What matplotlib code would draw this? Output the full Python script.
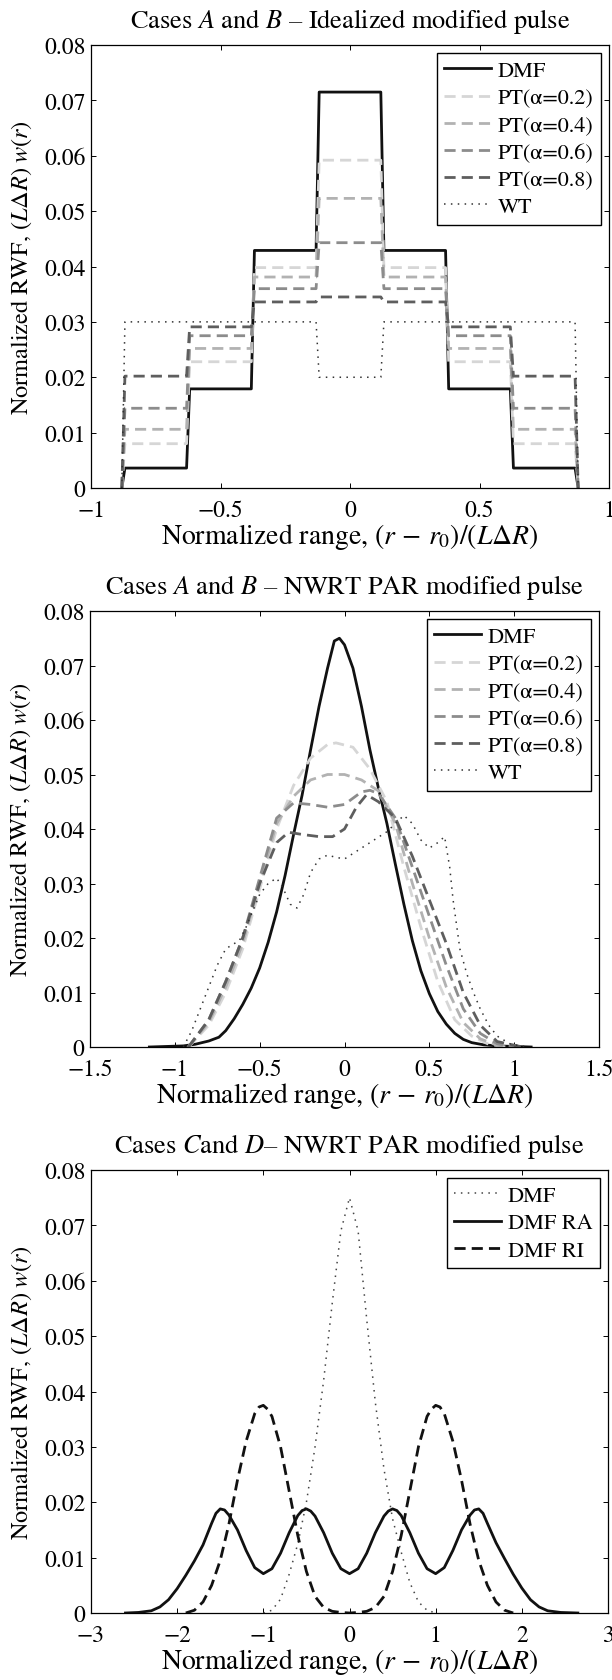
import matplotlib.pyplot as plt
import numpy as np
from matplotlib.ticker import FuncFormatter

plt.rcParams['font.family'] = 'STIXGeneral'
plt.rcParams['mathtext.fontset'] = 'stix'

# ---- panel 1: idealized modified pulse (piecewise constant) ----
edges = [-0.875, -0.625, -0.375, -0.125, 0.125, 0.375, 0.625, 0.875]
dmf_steps = [0.0036, 0.0179, 0.0429, 0.0715, 0.0429, 0.0179, 0.0036]
pt02_steps = [0.0080, 0.0228, 0.0398, 0.0592, 0.0398, 0.0228, 0.0080]
pt04_steps = [0.0106, 0.0252, 0.0381, 0.0523, 0.0381, 0.0252, 0.0106]
pt06_steps = [0.0144, 0.0275, 0.0360, 0.0443, 0.0360, 0.0275, 0.0144]
pt08_steps = [0.0202, 0.0291, 0.0336, 0.0345, 0.0336, 0.0291, 0.0202]
wt_edges = [-0.875, -0.125, 0.125, 0.875]
wt_steps = [0.030, 0.020, 0.030]

# ---- panel 2: NWRT PAR modified pulse ----
dmf2_x = [-1.15, -1.05, -0.95, -0.88, -0.8, -0.74, -0.7, -0.65, -0.6, -0.55, -0.5, -0.45,
          -0.4, -0.35, -0.3, -0.25, -0.2, -0.15, -0.1, -0.06, -0.03, 0.0, 0.05, 0.1, 0.15,
          0.2, 0.25, 0.3, 0.35, 0.4, 0.45, 0.5, 0.55, 0.6, 0.65, 0.7, 0.75, 0.82, 0.9, 1.0, 1.1]
dmf2_y = [0.0, 0.0001, 0.0002, 0.0005, 0.0011, 0.0018, 0.0030, 0.0052, 0.0078, 0.0108, 0.0145,
          0.0192, 0.0248, 0.0315, 0.0390, 0.0462, 0.0545, 0.0625, 0.0695, 0.0745, 0.0750,
          0.0738, 0.0695, 0.0625, 0.0545, 0.0475, 0.0410, 0.0335, 0.0262, 0.0195, 0.0140,
          0.0098, 0.0065, 0.0042, 0.0025, 0.0014, 0.0008, 0.0004, 0.0002, 0.0001, 0.0]

pt02_x = [-0.92, -0.8, -0.7, -0.6, -0.5, -0.4, -0.3, -0.2, -0.1, -0.05, 0.05, 0.15, 0.25,
          0.35, 0.45, 0.55, 0.65, 0.75, 0.85, 0.95]
pt02_y = [0.0, 0.004, 0.010, 0.018, 0.029, 0.040, 0.048, 0.053, 0.0555, 0.0558, 0.0550,
          0.051, 0.045, 0.033, 0.022, 0.012, 0.005, 0.002, 0.0005, 0.0]
pt04_x = [-0.92, -0.8, -0.7, -0.6, -0.5, -0.4, -0.3, -0.2, -0.1, 0.0, 0.1, 0.2, 0.3, 0.4,
          0.5, 0.6, 0.7, 0.8, 0.9, 1.0]
pt04_y = [0.0, 0.0045, 0.011, 0.019, 0.030, 0.041, 0.046, 0.049, 0.050, 0.050, 0.049,
          0.047, 0.041, 0.030, 0.020, 0.011, 0.0045, 0.0015, 0.0003, 0.0]
pt06_x = [-0.92, -0.8, -0.7, -0.6, -0.5, -0.4, -0.3, -0.2, -0.1, 0.0, 0.1, 0.15, 0.2, 0.3,
          0.4, 0.5, 0.6, 0.7, 0.8, 0.9, 1.0]
pt06_y = [0.0, 0.005, 0.012, 0.020, 0.031, 0.042, 0.0448, 0.0445, 0.0440, 0.0445, 0.0468,
          0.0471, 0.0465, 0.042, 0.033, 0.024, 0.015, 0.007, 0.0025, 0.0006, 0.0]
pt08_x = [-0.92, -0.8, -0.7, -0.6, -0.5, -0.4, -0.33, -0.25, -0.15, -0.07, 0.0, 0.07, 0.13,
          0.2, 0.3, 0.4, 0.5, 0.6, 0.7, 0.8, 0.9, 1.05]
pt08_y = [0.0, 0.005, 0.012, 0.020, 0.030, 0.0375, 0.0394, 0.0390, 0.0386, 0.0386, 0.040,
          0.044, 0.0463, 0.045, 0.042, 0.035, 0.027, 0.019, 0.010, 0.004, 0.001, 0.0]

wt2_x = [-0.95, -0.9, -0.85, -0.8, -0.75, -0.7, -0.66, -0.62, -0.58, -0.54, -0.5, -0.45, -0.4,
         -0.36, -0.32, -0.28, -0.24, -0.2, -0.15, -0.1, -0.05, 0.0, 0.05, 0.1, 0.15, 0.2, 0.25,
         0.3, 0.35, 0.4, 0.45, 0.5, 0.55, 0.59, 0.62, 0.64, 0.68, 0.72, 0.76, 0.8, 0.85, 0.9,
         0.98, 1.08]
wt2_y = [0.0, 0.003, 0.007, 0.011, 0.015, 0.018, 0.0188, 0.0195, 0.022, 0.025, 0.028, 0.030,
         0.031, 0.029, 0.0262, 0.0255, 0.028, 0.032, 0.0345, 0.0352, 0.0348, 0.0345, 0.0355,
         0.0365, 0.0375, 0.0385, 0.0395, 0.041, 0.0425, 0.041, 0.038, 0.0365, 0.0375, 0.0386,
         0.033, 0.027, 0.018, 0.0135, 0.010, 0.007, 0.004, 0.002, 0.0005, 0.0]

# ---- panel 3: cases C and D ----
dmf3_x = [-1.0, -0.9, -0.8, -0.7, -0.6, -0.5, -0.4, -0.3, -0.2, -0.1, 0.0, 0.1, 0.2, 0.3,
          0.4, 0.5, 0.6, 0.7, 0.8, 0.9, 1.0]
dmf3_y = [0.0, 0.0005, 0.0025, 0.0070, 0.0125, 0.020, 0.030, 0.042, 0.056, 0.069, 0.075,
          0.069, 0.053, 0.038, 0.026, 0.017, 0.011, 0.0055, 0.002, 0.0005, 0.0]

ra_x = [-2.6, -2.45, -2.3, -2.2, -2.1, -2.0, -1.9, -1.8, -1.7, -1.6, -1.55, -1.5, -1.45,
        -1.4, -1.3, -1.2, -1.1, -1.0, -0.9, -0.8, -0.7, -0.6, -0.55, -0.5, -0.45, -0.4,
        -0.3, -0.2, -0.1, 0.0,
        0.1, 0.2, 0.3, 0.4, 0.45, 0.5, 0.55, 0.6, 0.7, 0.8, 0.9, 1.0, 1.1, 1.2, 1.3, 1.4,
        1.45, 1.5, 1.55, 1.6, 1.7, 1.8, 1.9, 2.0, 2.1, 2.2, 2.3, 2.45, 2.65]
ra_y = [0.0, 0.0001, 0.0004, 0.0011, 0.0024, 0.0044, 0.0068, 0.0094, 0.0123, 0.0162, 0.0180,
        0.0188, 0.0186, 0.0177, 0.0150, 0.0113, 0.0082, 0.0071, 0.0080, 0.0108, 0.0145,
        0.0176, 0.0185, 0.0188, 0.0184, 0.0175, 0.0145, 0.0108, 0.0080, 0.0071,
        0.0080, 0.0108, 0.0145, 0.0175, 0.0184, 0.0188, 0.0185, 0.0176, 0.0145, 0.0108,
        0.0080, 0.0071, 0.0082, 0.0113, 0.0150, 0.0177, 0.0186, 0.0188, 0.0180, 0.0162,
        0.0127, 0.0098, 0.0070, 0.0045, 0.0024, 0.0011, 0.0004, 0.0001, 0.0]

ri_x = [-1.9, -1.8, -1.7, -1.6, -1.5, -1.4, -1.3, -1.2, -1.1, -1.05, -1.0, -0.95, -0.9, -0.8,
        -0.7, -0.6, -0.5, -0.4, -0.3, -0.2, -0.1, 0.0, 0.1, 0.2, 0.3, 0.4, 0.5, 0.6, 0.7, 0.8,
        0.9, 0.95, 1.0, 1.05, 1.1, 1.2, 1.3, 1.4, 1.5, 1.6, 1.7, 1.8, 1.9]
ri_y = [0.0, 0.0005, 0.002, 0.005, 0.0095, 0.0160, 0.024, 0.031, 0.036, 0.0372, 0.0375,
        0.0368, 0.0355, 0.030, 0.022, 0.014, 0.0075, 0.003, 0.001, 0.0003, 0.0001, 0.0,
        0.0001, 0.0003, 0.001, 0.003, 0.0075, 0.014, 0.022, 0.030, 0.0355, 0.0368, 0.0375,
        0.0372, 0.036, 0.031, 0.024, 0.016, 0.0095, 0.005, 0.002, 0.0005, 0.0]

pt_labels = ['PT(\u03b1=0.2)', 'PT(\u03b1=0.4)', 'PT(\u03b1=0.6)', 'PT(\u03b1=0.8)']
pt_colors = ['#d6d6d6', '#b2b2b2', '#8c8c8c', '#5e5e5e']
xlab = r'Normalized range, $(r\,-\,r_0)/(L\Delta R)$'
ylab = r'Normalized RWF, $(L\Delta R)\;w(r)$'

DASH = (4, 2.2)
DOT = (1, 3.5)


def stairs(e, lv, ramp=0.012):
    # step outline with slightly sloped edges
    lv = [0] + list(lv) + [0]
    xs, ys = [], []
    for i, v in enumerate(e):
        xs += [v - ramp / 2, v + ramp / 2]
        ys += [lv[i], lv[i + 1]]
    return xs, ys


def tick_fmt(v, pos):
    return ('%g' % round(v, 4)).replace('-', '\u2212')


def style(ax, xlim, xticks, title):
    ax.set_xlim(xlim)
    ax.set_ylim(0, 0.08)
    ax.set_xticks(xticks)
    ax.set_yticks(np.arange(0, 0.081, 0.01))
    ax.xaxis.set_major_formatter(FuncFormatter(tick_fmt))
    ax.yaxis.set_major_formatter(FuncFormatter(tick_fmt))
    ax.tick_params(direction='in', top=True, right=True, length=3.5, width=0.7,
                   labelsize=17)
    ax.tick_params(axis='x', pad=8)
    ax.tick_params(axis='y', pad=4)
    for s in ax.spines.values():
        s.set_linewidth(0.9)
    ax.set_xlabel(xlab, fontsize=20, labelpad=0)
    ax.set_ylabel(ylab, fontsize=17.5, labelpad=7)
    ax.set_title(title, fontsize=19, pad=13)


def legend(ax):
    leg = ax.legend(loc='upper right', fontsize=16, fancybox=False, framealpha=1,
                    edgecolor='black', handlelength=2.1, handletextpad=0.3,
                    labelspacing=0.3, borderpad=0.35, borderaxespad=0.35)
    leg.get_frame().set_linewidth(1.0)


fig = plt.figure(figsize=(6.12, 16.81), dpi=100)
ax1 = fig.add_axes([91 / 612, 1 - 489 / 1681, 518 / 612, 443 / 1681])
ax2 = fig.add_axes([90 / 612, 1 - 1048 / 1681, 509 / 612, 436 / 1681])
ax3 = fig.add_axes([91 / 612, 1 - 1614 / 1681, 517 / 612, 443 / 1681])

# panel 1
x, y = stairs(edges, dmf_steps)
ax1.plot(x, y, color='#111111', lw=2.0, label='DMF')
for lv, c, lab in zip([pt02_steps, pt04_steps, pt06_steps, pt08_steps], pt_colors, pt_labels):
    x, y = stairs(edges, lv)
    ax1.plot(x, y, color=c, lw=2.0, dashes=DASH, label=lab)
x, y = stairs(wt_edges, wt_steps)
ax1.plot(x, y, color='#333333', lw=1.1, dashes=DOT, label='WT')
style(ax1, (-1, 1), [-1, -0.5, 0, 0.5, 1], r'Cases $A$ and $B$ – Idealized modified pulse')
legend(ax1)

# panel 2
ax2.plot(dmf2_x, dmf2_y, color='#111111', lw=2.0, label='DMF')
for px, py, c, lab in zip([pt02_x, pt04_x, pt06_x, pt08_x], [pt02_y, pt04_y, pt06_y, pt08_y],
                          pt_colors, pt_labels):
    ax2.plot(px, py, color=c, lw=2.0, dashes=DASH, label=lab)
ax2.plot(wt2_x, wt2_y, color='#333333', lw=1.1, dashes=DOT, label='WT')
style(ax2, (-1.5, 1.5), [-1.5, -1, -0.5, 0, 0.5, 1, 1.5],
      r'Cases $A$ and $B$ – NWRT PAR modified pulse')
legend(ax2)

# panel 3
ax3.plot(dmf3_x, dmf3_y, color='#444444', lw=1.1, dashes=DOT, label='DMF')
ax3.plot(ra_x, ra_y, color='#111111', lw=2.0, label='DMF RA')
ax3.plot(ri_x, ri_y, color='#111111', lw=2.0, dashes=DASH, label='DMF RI')
style(ax3, (-3, 3), [-3, -2, -1, 0, 1, 2, 3], r'Cases $C$and $D$– NWRT PAR modified pulse')
legend(ax3)

plt.savefig('out.png', dpi=100)
